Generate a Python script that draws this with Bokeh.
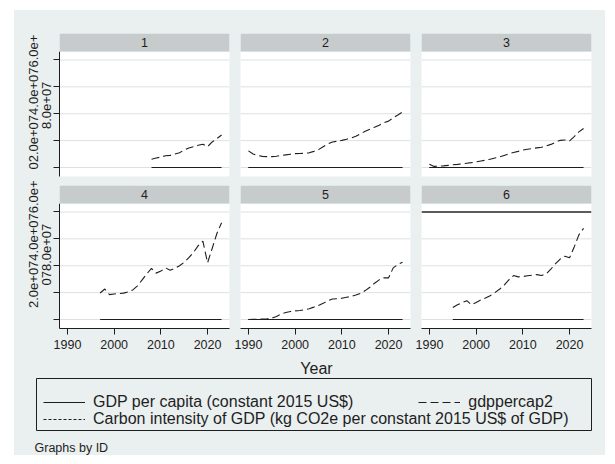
from bokeh.plotting import figure
from bokeh.layouts import row, column
from bokeh.models import (Range1d, FixedTicker, BoxAnnotation, Label, Legend, Title,
                          LegendItem, Span, CustomJSTickFormatter)
from bokeh.core.properties import value
from bokeh.embed import file_html
from bokeh.resources import INLINE

# ---------------- data ----------------
PANEL_IDS = [1, 2, 3, 4, 5, 6]
START_YEAR = {1: 2008, 2: 1990, 3: 1990, 4: 1997, 5: 1990, 6: 1995}
END_YEAR = 2023

SERIES = ["GDP per capita (constant 2015 US$)",
          "gdppercap2",
          "Carbon intensity of GDP (kg CO2e per constant 2015 US$ of GDP)"]

GDP_1 = [2490, 2650, 2790, 2950, 3000, 3160, 3320, 3610, 3810, 3940, 4060, 4160, 3940, 4360, 4640, 4920]
GDP2_1 = [6.2e6, 7.0e6, 7.8e6, 8.7e6, 9.0e6, 1.0e7, 1.1e7, 1.3e7, 1.45e7, 1.55e7, 1.65e7, 1.73e7,
          1.55e7, 1.9e7, 2.15e7, 2.42e7]

GDP_2 = [3520, 3160, 3000, 2880, 2850, 2850, 2900, 2980, 3070, 3150, 3210, 3220, 3260, 3300, 3460,
         3650, 3940, 4180, 4360, 4420, 4490, 4580, 4690, 4820, 5000, 5200, 5340, 5480, 5610, 5770,
         5870, 6080, 6240, 6430]
GDP2_2 = [1.24e7, 1.0e7, 9.0e6, 8.3e6, 8.1e6, 8.1e6, 8.4e6, 8.9e6, 9.4e6, 9.9e6, 1.03e7, 1.04e7,
          1.06e7, 1.09e7, 1.2e7, 1.33e7, 1.55e7, 1.75e7, 1.9e7, 1.95e7, 2.02e7, 2.1e7, 2.2e7, 2.32e7,
          2.5e7, 2.7e7, 2.85e7, 3.0e7, 3.15e7, 3.33e7, 3.45e7, 3.7e7, 3.9e7, 4.13e7]
CI_2 = [0.92, 0.95, 0.97, 0.98, 0.96, 0.93, 0.90, 0.87, 0.85, 0.83, 0.80, 0.78, 0.76, 0.74, 0.71,
        0.68, 0.65, 0.62, 0.60, 0.59, 0.58, 0.56, 0.54, 0.52, 0.50, 0.48, 0.47, 0.46, 0.45, 0.43,
        0.42, 0.41, 0.40, 0.39]

GDP_3 = [1580, 890, 1000, 1100, 1260, 1410, 1520, 1670, 1790, 1900, 2050, 2190, 2320, 2490, 2650,
         2790, 3000, 3190, 3350, 3460, 3610, 3690, 3750, 3820, 3890, 4000, 4150, 4340, 4490, 4530,
         4450, 4800, 5150, 5390]
GDP2_3 = [2.5e6, 8e5, 1.0e6, 1.2e6, 1.6e6, 2.0e6, 2.3e6, 2.8e6, 3.2e6, 3.6e6, 4.2e6, 4.8e6, 5.4e6,
          6.2e6, 7.0e6, 7.8e6, 9.0e6, 1.02e7, 1.12e7, 1.2e7, 1.3e7, 1.36e7, 1.41e7, 1.46e7, 1.51e7,
          1.6e7, 1.72e7, 1.88e7, 2.02e7, 2.05e7, 1.98e7, 2.3e7, 2.65e7, 2.9e7]
CI_3 = [1.30, 1.45, 1.42, 1.38, 1.33, 1.28, 1.24, 1.20, 1.16, 1.12, 1.08, 1.04, 1.00, 0.96, 0.92,
        0.88, 0.84, 0.80, 0.77, 0.75, 0.72, 0.70, 0.68, 0.66, 0.64, 0.62, 0.60, 0.58, 0.56, 0.55,
        0.56, 0.53, 0.51, 0.49]

GDP_4 = [4440, 4760, 4300, 4360, 4390, 4430, 4530, 4690, 5000, 5430, 5830, 6160, 5870, 6000, 6200,
         6050, 6160, 6320, 6520, 6780, 7070, 7420, 7640, 6500, 7280, 8000, 8490]
GDP2_4 = [1.97e7, 2.27e7, 1.85e7, 1.9e7, 1.93e7, 1.96e7, 2.05e7, 2.2e7, 2.5e7, 2.95e7, 3.4e7, 3.8e7,
          3.45e7, 3.6e7, 3.84e7, 3.66e7, 3.8e7, 4.0e7, 4.25e7, 4.6e7, 5.0e7, 5.5e7, 5.83e7, 4.22e7,
          5.3e7, 6.4e7, 7.2e7]

GDP_5 = [100, 320, 450, 550, 770, 1000, 1520, 2000, 2280, 2450, 2530, 2590, 2680, 2830, 3030, 3240,
         3460, 3740, 3900, 3920, 3970, 4060, 4150, 4270, 4420, 4640, 4900, 5200, 5430, 5570, 5570,
         6200, 6400, 6530]
GDP2_5 = [1e4, 1e5, 2e5, 3e5, 6e5, 1.0e6, 2.3e6, 4.0e6, 5.2e6, 6.0e6, 6.4e6, 6.7e6, 7.2e6, 8.0e6,
          9.2e6, 1.05e7, 1.2e7, 1.4e7, 1.52e7, 1.54e7, 1.58e7, 1.65e7, 1.72e7, 1.82e7, 1.95e7, 2.15e7,
          2.4e7, 2.7e7, 2.95e7, 3.1e7, 3.1e7, 3.84e7, 4.1e7, 4.26e7]
CI_5 = [2.10, 2.05, 2.00, 1.95, 1.90, 1.85, 1.75, 1.65, 1.58, 1.52, 1.47, 1.43, 1.39, 1.35, 1.30,
        1.25, 1.20, 1.15, 1.11, 1.08, 1.05, 1.02, 0.99, 0.96, 0.93, 0.90, 0.87, 0.84, 0.81, 0.79,
        0.80, 0.76, 0.73, 0.71]

GDP_6 = [3000, 3320, 3540, 3740, 3320, 3560, 3810, 4000, 4210, 4470, 4740, 5050, 5430, 5720, 5630,
         5660, 5700, 5740, 5780, 5720, 5830, 6120, 6440, 6710, 6860, 6770, 7350, 7940, 8230]
GDP2_6 = [9.0e6, 1.1e7, 1.25e7, 1.4e7, 1.1e7, 1.27e7, 1.45e7, 1.6e7, 1.77e7, 2.0e7, 2.25e7, 2.55e7,
          2.95e7, 3.27e7, 3.17e7, 3.2e7, 3.25e7, 3.3e7, 3.34e7, 3.27e7, 3.4e7, 3.75e7, 4.15e7, 4.5e7,
          4.71e7, 4.59e7, 5.4e7, 6.3e7, 6.78e7]

GDP = {1: GDP_1, 2: GDP_2, 3: GDP_3, 4: GDP_4, 5: GDP_5, 6: GDP_6}
GDP2 = {1: GDP2_1, 2: GDP2_2, 3: GDP2_3, 4: GDP2_4, 5: GDP2_5, 6: GDP2_6}
CI = {2: CI_2, 3: CI_3, 5: CI_5}

XTICKS = [1990, 2000, 2010, 2020]
YTICKS = [0, 2e7, 4e7, 6e7, 8e7]
# y tick labels as they appear (overprinted) in the reference, per row: [inner, outer]
YLABEL_LINES = {0: ["8.0e+07", "02.0e+074.0e+076.0e+"],
                1: ["078.0e+07", "2.0e+074.0e+076.0e+"]}
X_TITLE = "Year"
NOTE = "Graphs by ID"

# ---------------- style / layout ----------------
BG = "#EAEFEF"
STRIP = "#C8CBCB"
STRIP_EDGE = "#D3E2E5"
GRID = "#DCE1E2"
INK = "#1E1E1E"
FONT = "Liberation Sans"

X_LO, X_HI = 1988.3, 2024.7
Y_LO, Y_PLOT_TOP, Y_TOP = -6.7e6, 8.63e7, 9.97e7

COL_W = [220, 181, 190]
COL_MBL = [45, 6, 6]
COL_MBR = [5, 5, 14]
ROW_H = [170, 175]
ROW_MBT = [23, 5]
ROW_MBB = [4, 27]
# distance (px) from the frame bottom up to the start of the [inner, outer] y-label lines
YLAB_OFFSET = {0: [47.5, 7], 1: [43, 20.5]}
YLAB_STANDOFF = [5, 0]


def make_panel(pid, r, c):
    years = list(range(START_YEAR[pid], END_YEAR + 1))
    p = figure(width=COL_W[c], height=ROW_H[r],
               x_range=Range1d(X_LO, X_HI), y_range=Range1d(Y_LO, Y_TOP),
               x_axis_location="below" if r == 1 else None,
               y_axis_location="left" if c == 0 else None,
               toolbar_location=None, output_backend="svg",
               min_border_left=COL_MBL[c], min_border_right=COL_MBR[c],
               min_border_top=ROW_MBT[r], min_border_bottom=ROW_MBB[r])
    p.border_fill_color = BG
    p.background_fill_color = "white"
    p.outline_line_color = None
    p.grid.visible = False
    for t in YTICKS:
        p.add_layout(Span(location=t, dimension="width", line_color=GRID, line_width=1,
                          level="underlay"))

    if c == 0:
        ax = p.yaxis[0]
        ax.ticker = FixedTicker(ticks=YTICKS)
        ax.bounds = (Y_LO, Y_PLOT_TOP)
        ax.formatter = CustomJSTickFormatter(code="return ''")
        ax.major_label_standoff = 0
        ax.major_tick_out = 6
        ax.major_tick_in = 0
        ax.minor_tick_out = 0
        ax.minor_tick_in = 0
        ax.axis_line_color = INK
        ax.major_tick_line_color = INK
        for txt, off, so in zip(YLABEL_LINES[r], YLAB_OFFSET[r], YLAB_STANDOFF):
            p.add_layout(Title(text=txt, align="left", offset=off, standoff=so,
                               text_font=FONT, text_font_size="13px",
                               text_font_style="normal", text_color=INK), "left")
    if r == 1:
        ax = p.xaxis[0]
        ax.ticker = FixedTicker(ticks=XTICKS)
        ax.major_tick_out = 6
        ax.major_tick_in = 0
        ax.minor_tick_out = 0
        ax.minor_tick_in = 0
        ax.major_label_standoff = 5
        ax.axis_line_color = INK
        ax.major_tick_line_color = INK
        ax.major_label_text_font = FONT
        ax.major_label_text_font_size = "12.5px"
        ax.major_label_text_color = INK

    if pid == 6:
        p.add_layout(Span(location=YTICKS[-1], dimension="width", line_color="#2a2a2a",
                          line_width=1.3))

    p.line(years, GDP[pid], line_color=INK, line_width=1.1)
    p.line(years, GDP2[pid], line_color=INK, line_width=1.1, line_dash="8 4")
    if pid in CI:
        p.line(years, CI[pid], line_color=INK, line_width=1.1, line_dash="3 2")

    p.add_layout(BoxAnnotation(bottom=Y_PLOT_TOP, fill_color=STRIP, fill_alpha=1.0,
                               line_color=STRIP_EDGE, line_alpha=1.0, line_width=1))
    p.add_layout(Label(x=(X_LO + X_HI) / 2, y=(Y_PLOT_TOP + Y_TOP) / 2, text=str(pid),
                       text_align="center", text_baseline="middle", text_font=FONT,
                       text_font_size="12.5px", text_color=INK))
    return p


panels = [make_panel(pid, i // 3, i % 3) for i, pid in enumerate(PANEL_IDS)]

# bottom area: x title, legend, note
BW, BH = 591, 100
pb = figure(width=BW, height=BH, x_range=Range1d(0, BW), y_range=Range1d(BH, 0),
            x_axis_location=None, y_axis_location=None, toolbar_location=None,
            output_backend="svg", min_border=0)
pb.grid.visible = False
pb.outline_line_color = None
pb.background_fill_color = BG
pb.border_fill_color = BG

pb.add_layout(Label(x=302, y=13, text=X_TITLE, text_align="center", text_baseline="middle",
                    text_font=FONT, text_font_size="16px", text_color=INK))
pb.add_layout(BoxAnnotation(left=22, right=577, top=23, bottom=75, fill_alpha=0,
                            line_color=INK, line_alpha=1.0, line_width=1))
pb.add_layout(Label(x=20, y=92, text=NOTE, text_align="left", text_baseline="middle",
                    text_font=FONT, text_font_size="12.5px", text_color=INK))

NAN = [float("nan")]
ra = pb.line(x=NAN, y=NAN, line_color=INK, line_width=1.1)
rb = pb.line(x=NAN, y=NAN, line_color=INK, line_width=1.1, line_dash="8 4")
rc = pb.line(x=NAN, y=NAN, line_color=INK, line_width=1.1, line_dash="3 2")

common = dict(padding=0, margin=0, border_line_color=None, background_fill_alpha=0,
              glyph_width=42, glyph_height=16, label_height=16, label_standoff=8,
              label_text_font=FONT, label_text_font_size="16px", label_text_color=INK)
leg1 = Legend(items=[LegendItem(label=value(SERIES[0]), renderers=[ra]),
                     LegendItem(label=value(SERIES[1]), renderers=[rb])],
              orientation="horizontal", spacing=65, location=(29, 44), **common)
leg2 = Legend(items=[LegendItem(label=value(SERIES[2]), renderers=[rc])],
              orientation="horizontal", location=(29, 27), **common)
pb.add_layout(leg1)
pb.add_layout(leg2)

bgstyle = {"background-color": BG}
layout = column(row(*panels[:3], styles=bgstyle), row(*panels[3:], styles=bgstyle), pb,
                styles={"background-color": BG, "position": "absolute",
                        "left": "14px", "top": "10px"})

open("out.html", "w").write(file_html(layout, INLINE))
